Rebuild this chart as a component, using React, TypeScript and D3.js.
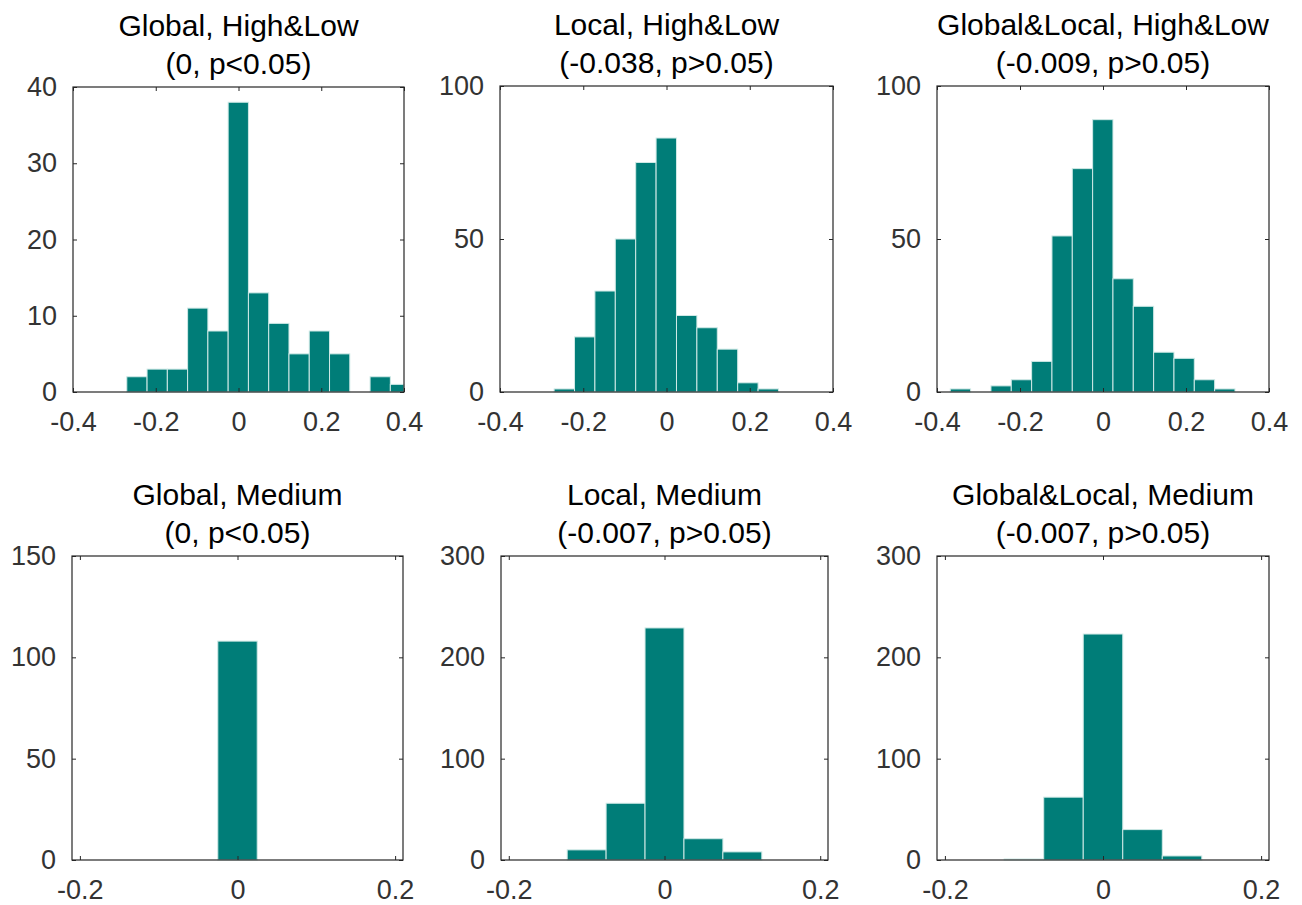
import React, { useEffect, useRef } from 'react';
import * as d3 from 'd3';

// panel titles (two lines each)
const titles = [
  ['Global, High&Low', '(0, p<0.05)'],
  ['Local, High&Low', '(-0.038, p>0.05)'],
  ['Global&Local, High&Low', '(-0.009, p>0.05)'],
  ['Global, Medium', '(0, p<0.05)'],
  ['Local, Medium', '(-0.007, p>0.05)'],
  ['Global&Local, Medium', '(-0.007, p>0.05)'],
];

// histogram counts, one array per panel
const globalHighLow = [2, 3, 3, 11, 8, 38, 13, 9, 5, 8, 5, 0, 2, 1];
const localHighLow = [1, 18, 33, 50, 75, 83, 25, 21, 14, 3, 1];
const bothHighLow = [1, 0, 2, 4, 10, 51, 73, 89, 37, 28, 13, 11, 4, 1];
const globalMedium = [108];
const localMedium = [10, 56, 229, 21, 8];
const bothMedium = [1, 62, 223, 30, 4];

// first bin edge and bin width per panel
const firstEdges = [-0.27, -0.27, -0.368, -0.025, -0.125, -0.125];
const binWidths = [0.049, 0.049, 0.049, 0.05, 0.05, 0.05];

// axis limits and ticks
const xLimTop = [-0.4, 0.4];
const xLimBottom = [-0.21, 0.21];
const xTicksTop = [-0.4, -0.2, 0, 0.2, 0.4];
const xTicksBottom = [-0.2, 0, 0.2];
const yTicks = [
  [0, 10, 20, 30, 40],
  [0, 50, 100],
  [0, 50, 100],
  [0, 50, 100, 150],
  [0, 100, 200, 300],
  [0, 100, 200, 300],
];

const allCounts = [globalHighLow, localHighLow, bothHighLow, globalMedium, localMedium, bothMedium];

// plot boxes in page pixels
const boxes = [
  { x: 73, y: 87, w: 331, h: 305 },
  { x: 500, y: 86, w: 333, h: 306 },
  { x: 937, y: 86, w: 332, h: 306 },
  { x: 72, y: 556, w: 331, h: 304 },
  { x: 501, y: 556, w: 327, h: 304 },
  { x: 937, y: 556, w: 332, h: 304 },
];

const FONT = '"Liberation Sans", Arial, Helvetica, sans-serif';
const BAR = '#007d78';
const BAR_EDGE = '#cfe9e6';
const AXIS = '#262626';

const App = () => {
  const ref = useRef<SVGSVGElement>(null);

  useEffect(() => {
    document.body.style.margin = '0';
    const svg = d3.select(ref.current);
    svg.selectAll('*').remove();

    allCounts.forEach((counts, p) => {
      const box = boxes[p];
      const top = p < 3;
      const xLim = top ? xLimTop : xLimBottom;
      const ticks = yTicks[p];

      const x = d3.scaleLinear().domain(xLim).range([0, box.w]);
      const y = d3.scaleLinear().domain([0, ticks[ticks.length - 1]]).range([box.h, 0]);

      const g = svg.append('g').attr('transform', `translate(${box.x},${box.y})`);

      // bars
      const bins = counts.map((c, i) => {
        const x0 = firstEdges[p] + i * binWidths[p];
        return { x0: Math.max(x0, xLim[0]), x1: Math.min(x0 + binWidths[p], xLim[1]), c };
      }).filter(d => d.c > 0);

      g.selectAll('rect.bar')
        .data(bins)
        .enter()
        .append('rect')
        .attr('class', 'bar')
        .attr('x', d => x(d.x0))
        .attr('width', d => x(d.x1) - x(d.x0))
        .attr('y', d => y(d.c))
        .attr('height', d => y(0) - y(d.c))
        .attr('fill', BAR)
        .attr('stroke', BAR_EDGE)
        .attr('stroke-width', 1);

      const xTicks = top ? xTicksTop : xTicksBottom;
      const fmt = (d: any) => String(d);

      const bottomAxis = g.append('g')
        .attr('transform', `translate(0,${box.h})`)
        .call(d3.axisBottom(x).tickValues(xTicks).tickSize(-4).tickPadding(20).tickFormat(fmt));
      const topAxis = g.append('g')
        .call(d3.axisTop(x).tickValues(xTicks).tickSize(-4).tickFormat(() => ''));
      const leftAxis = g.append('g')
        .call(d3.axisLeft(y).tickValues(ticks).tickSize(-4).tickPadding(16).tickFormat(fmt));
      const rightAxis = g.append('g')
        .attr('transform', `translate(${box.w},0)`)
        .call(d3.axisRight(y).tickValues(ticks).tickSize(-4).tickFormat(() => ''));

      [bottomAxis, topAxis, leftAxis, rightAxis].forEach(a => {
        a.select('.domain').remove();
        a.selectAll('line').attr('stroke', AXIS).attr('stroke-width', 1);
        a.selectAll('text')
          .attr('font-family', FONT)
          .attr('font-size', 27)
          .attr('fill', '#333');
      });

      // box
      g.append('rect')
        .attr('width', box.w)
        .attr('height', box.h)
        .attr('fill', 'none')
        .attr('stroke', AXIS)
        .attr('stroke-width', 1.2);

      // title
      const title = g.append('text')
        .attr('text-anchor', 'middle')
        .attr('font-family', FONT)
        .attr('font-size', 30)
        .attr('fill', '#000');
      title.append('tspan').attr('x', box.w / 2).attr('y', -51).text(titles[p][0]);
      title.append('tspan').attr('x', box.w / 2).attr('y', -13).text(titles[p][1]);
    });
  }, []);

  return <svg ref={ref} width={1302} height={905} style={{ display: 'block', background: '#fff' }} />;
};

export default App;
